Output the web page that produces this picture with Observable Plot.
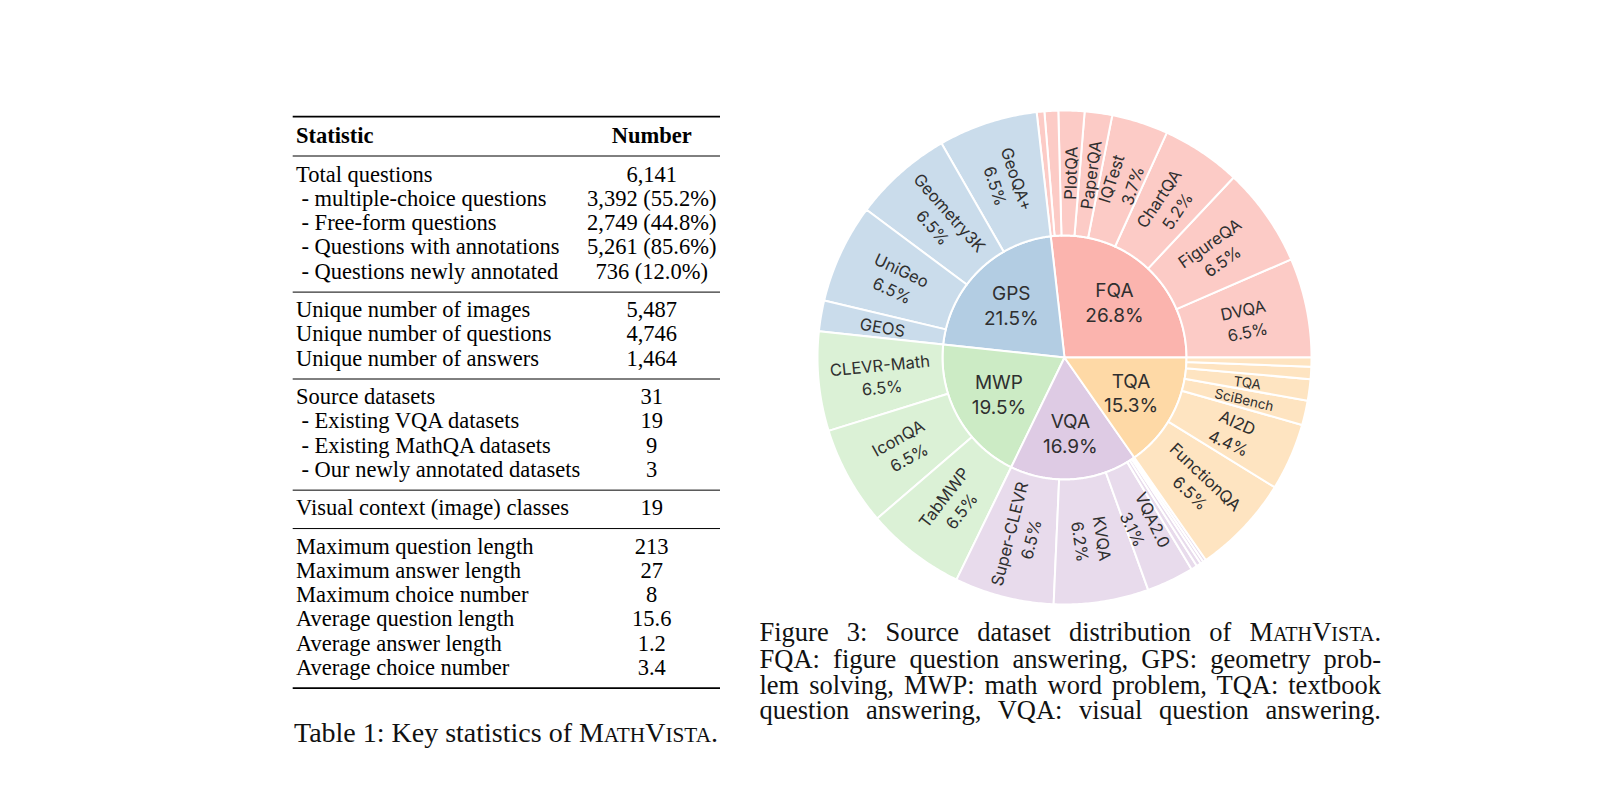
<!DOCTYPE html>
<html>
<head>
<meta charset="utf-8">
<script src="https://cdn.jsdelivr.net/npm/d3@7"></script>
<script src="https://cdn.jsdelivr.net/npm/@observablehq/plot@0.6"></script>
<style>
  html, body { margin:0; padding:0; background:#fff; }
  body { width:1618px; height:791px; position:relative; overflow:hidden;
         font-family:"Liberation Serif","Times New Roman",serif; color:#111; }
  #tbl { position:absolute; left:0; top:0; }
  #chart { position:absolute; left:809px; top:102px; }
  #figcap { position:absolute; left:759.5px; top:619.5px; width:621.5px; font-size:26.5px; line-height:25.6px; }
  #figcap div { text-align:justify; text-align-last:justify; }
  #tabcap { position:absolute; left:206px; width:600px; top:718px; font-size:28px; line-height:30px; text-align:center; }
  .sc { font-size:0.76em; }
</style>
</head>
<body>
<svg id="tbl" width="1618" height="791"></svg>
<div id="chart"></div>
<div id="figcap">
  <div>Figure 3: Source dataset distribution of M<span class="sc">ATH</span>V<span class="sc">ISTA</span>.</div>
  <div>FQA: figure question answering, GPS: geometry prob-</div>
  <div>lem solving, MWP: math word problem, TQA: textbook</div>
  <div>question answering, VQA: visual question answering.</div>
</div>
<div id="tabcap">Table 1: Key statistics of M<span class="sc">ATH</span>V<span class="sc">ISTA</span>.</div>
<script>
// ---------- data: sunburst ----------
const parentNames  = ["FQA", "GPS", "MWP", "VQA", "TQA"];
const parentShares = [26.8, 21.5, 19.5, 16.9, 15.3];
const parentColors = ["#fbb4ae", "#b3cde3", "#ccebc5", "#decbe4", "#fed9a6"];

const sourceParent = ["FQA","FQA","FQA","FQA","FQA","FQA","FQA","FQA",
                      "GPS","GPS","GPS","GPS",
                      "MWP","MWP","MWP",
                      "VQA","VQA","VQA","VQA","VQA","VQA","VQA",
                      "TQA","TQA","TQA","TQA","TQA","TQA"];
const sourceNames  = ["DVQA","FigureQA","ChartQA","IQTest","PaperQA","PlotQA","FQA minor 1","FQA minor 2",
                      "GeoQA+","Geometry3K","UniGeo","GEOS",
                      "CLEVR-Math","IconQA","TabMWP",
                      "Super-CLEVR","KVQA","VQA2.0","VQA minor 1","VQA minor 2","VQA minor 3","VQA minor 4",
                      "FunctionQA","AI2D","SciBench","TQA","TQA minor 1","TQA minor 2"];
const sourceShares = [6.5, 6.5, 5.2, 3.7, 1.8, 1.7, 0.9, 0.5,
                      6.5, 6.5, 6.5, 2.0,
                      6.5, 6.5, 6.5,
                      6.5, 6.2, 3.1, 0.4, 0.3, 0.2, 0.2,
                      6.5, 4.4, 1.6, 1.4, 0.8, 0.6];

// ---------- data: table ----------
const statLabels = ["Total questions", " - multiple-choice questions", " - Free-form questions",
                    " - Questions with annotations", " - Questions newly annotated",
                    "Unique number of images", "Unique number of questions", "Unique number of answers",
                    "Source datasets", " - Existing VQA datasets", " - Existing MathQA datasets", " - Our newly annotated datasets",
                    "Visual context (image) classes",
                    "Maximum question length", "Maximum answer length", "Maximum choice number",
                    "Average question length", "Average answer length", "Average choice number"];
const statValues = ["6,141", "3,392 (55.2%)", "2,749 (44.8%)", "5,261 (85.6%)", "736 (12.0%)",
                    "5,487", "4,746", "1,464",
                    "31", "19", "9", "3",
                    "19",
                    "213", "27", "8", "15.6", "1.2", "3.4"];
const statGroups = [5, 3, 4, 1, 6];
const statHeader = ["Statistic", "Number"];

// ---------- sunburst geometry ----------
const R_IN = 122, R_OUT = 247;
const polys = [], innerLabels = [], outerLabels = [];
const ang = c => (90 - c * 3.6) * Math.PI / 180;
function ring(id, c0, c1, r0, r1, color) {
  const a0 = ang(c0), a1 = ang(c1);
  const n = Math.max(2, Math.ceil(Math.abs(c1 - c0) * 3.6 / 0.5));
  for (let i = 0; i <= n; i++) {
    const a = a0 + (a1 - a0) * i / n;
    polys.push({id, color, x: r1 * Math.sin(a), y: r1 * Math.cos(a)});
  }
  if (r0 === 0) polys.push({id, color, x: 0, y: 0});
  else for (let i = n; i >= 0; i--) {
    const a = a0 + (a1 - a0) * i / n;
    polys.push({id, color, x: r0 * Math.sin(a), y: r0 * Math.cos(a)});
  }
}
function labelAt(c0, c1, r) {
  const m = (c0 + c1) / 2;
  let deg = (90 - m * 3.6) % 360; if (deg < 0) deg += 360;
  const a = deg * Math.PI / 180;
  return {x: r * Math.sin(a), y: r * Math.cos(a), rot: deg < 180 ? deg - 90 : deg - 270};
}
let pc = 0;
parentNames.forEach((p, i) => {
  const p0 = pc, p1 = pc + parentShares[i];
  ring("p" + i, p0, p1, 0, R_IN, parentColors[i]);
  innerLabels.push({...labelAt(p0, p1, 75), text: p + "\n" + parentShares[i].toFixed(1) + "%"});
  const childColor = d3.interpolateRgb("#ffffff", parentColors[i])(0.7);
  let cc = p0;
  sourceNames.forEach((s, j) => {
    if (sourceParent[j] !== p) return;
    const v = sourceShares[j];
    const c0 = cc, c1 = cc + v;
    ring("c" + j, c0, c1, R_IN, R_OUT, childColor);
    if (v >= 1.35) {
      outerLabels.push({...labelAt(c0, c1, 184.5),
        text: v >= 3 ? s + "\n" + v.toFixed(1) + "%" : s,
        size: v < 1.65 ? 13.5 : 16.5});
    }
    cc = c1;
  });
  pc = p1;
});

const labelFont = "Inter, 'Noto Sans', sans-serif";
const chart = Plot.plot({
  width: 510, height: 510, margin: 0,
  x: {domain: [-255, 255], axis: null},
  y: {domain: [-255, 255], axis: null},
  color: {type: "identity"},
  style: {background: "transparent", overflow: "visible"},
  marks: [
    Plot.line(polys, {x: "x", y: "y", z: "id", fill: "color", stroke: "#ffffff",
      strokeWidth: 2, strokeLinejoin: "round", curve: "linear-closed"}),
    Plot.text(innerLabels, {x: "x", y: "y", text: "text", fontSize: 19, lineHeight: 1.3,
      fill: "#2f2f2f", fontFamily: labelFont}),
    Plot.text(outerLabels, {x: "x", y: "y", text: "text", rotate: "rot", fontSize: d => d.size,
      lineHeight: 1.35, fill: "#2f2f2f", fontFamily: labelFont})
  ]
});
document.getElementById("chart").appendChild(chart);

// ---------- table ----------
const svg = d3.select("#tbl");
const TL = 292.7, TR = 720, XL = 296, XI = 301.5, XN = 651.7, PITCH = 24.25;
const tfont = "'Liberation Serif', 'Times New Roman', serif";
function rule(y, w) {
  svg.append("line").attr("x1", TL).attr("x2", TR).attr("y1", y).attr("y2", y)
    .attr("stroke", "#000").attr("stroke-width", w);
}
function txt(x, y, s, anchor, bold) {
  svg.append("text").attr("x", x).attr("y", y).attr("text-anchor", anchor)
    .attr("font-family", tfont).attr("font-size", 22.5).attr("fill", "#000")
    .attr("font-weight", bold ? "bold" : "normal").text(s);
}
rule(116.7, 1.8);
txt(XL, 142.7, statHeader[0], "start", true);
txt(XN, 142.7, statHeader[1], "middle", true);
rule(156, 1);
let y = 181.7, idx = 0;
statGroups.forEach((g, gi) => {
  for (let k = 0; k < g; k++, idx++) {
    const lab = statLabels[idx];
    const ind = lab.startsWith(" - ");
    txt(ind ? XI : XL, y, ind ? lab.trim() : lab, "start", false);
    txt(XN, y, statValues[idx], "middle", false);
    y += PITCH;
  }
  y -= PITCH;
  const ry = y + 13.4;
  rule(ry, gi === statGroups.length - 1 ? 1.8 : 1);
  y = ry + 25;
});
</script>
</body>
</html>
